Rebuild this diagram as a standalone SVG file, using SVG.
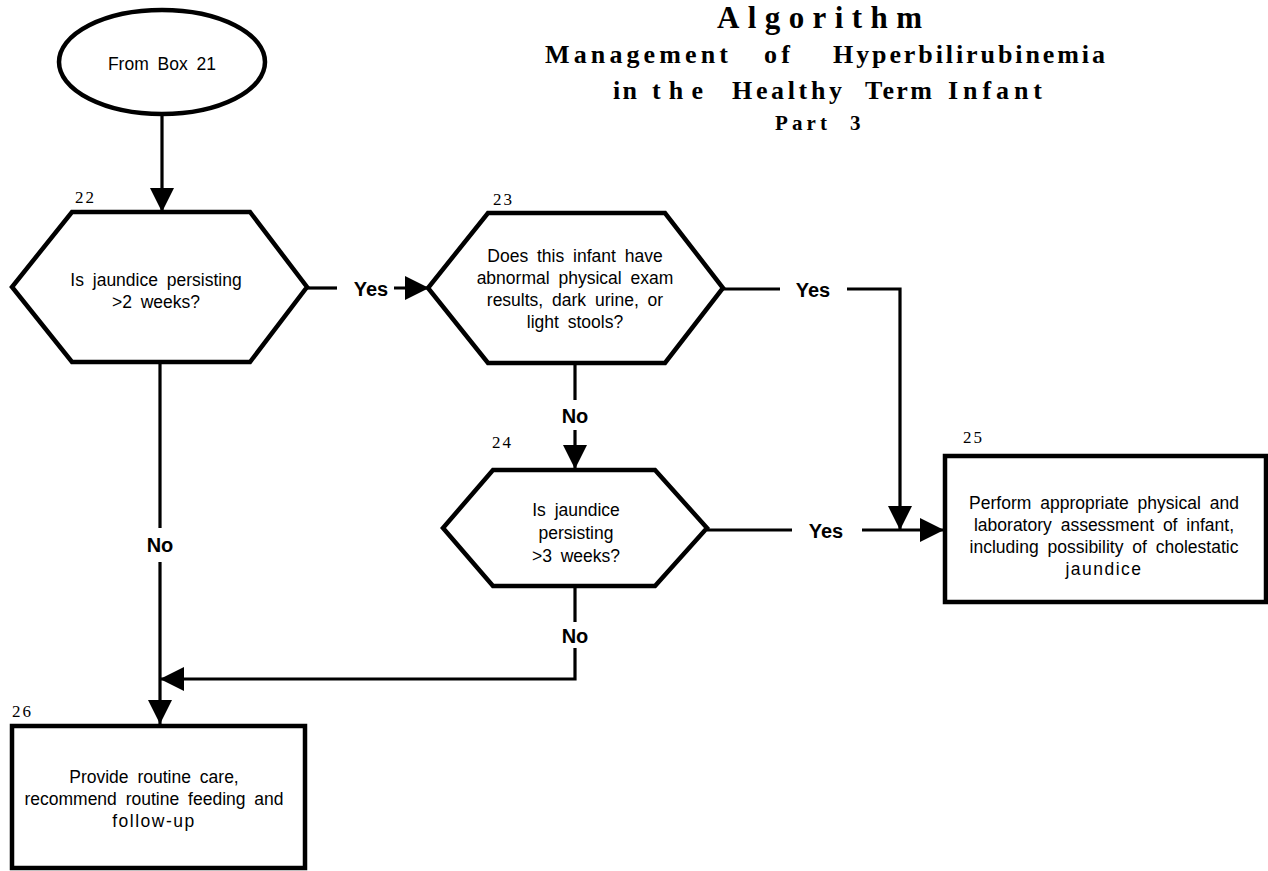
<svg xmlns="http://www.w3.org/2000/svg" width="1268" height="871" viewBox="0 0 1268 871">
<style>
.shape{fill:#fff;stroke:#000;stroke-width:4.5;stroke-linejoin:miter}
.conn{fill:none;stroke:#000;stroke-width:3.2}
.t{font-family:"Liberation Sans",Arial,sans-serif;font-size:17.5px;fill:#000;text-anchor:middle;word-spacing:4px}
.lbl{font-family:"Liberation Sans",Arial,sans-serif;font-size:20px;font-weight:bold;fill:#000;text-anchor:middle}
.num{font-family:"Liberation Serif","Times New Roman",serif;font-size:17px;fill:#000;letter-spacing:2px}
.title{font-family:"Liberation Serif","Times New Roman",serif;font-weight:bold;fill:#000}
</style>
<defs>
<marker id="arr" markerUnits="userSpaceOnUse" markerWidth="26" markerHeight="24" refX="24" refY="12" orient="auto">
<path d="M0,0 L24,12 L0,24 Z" fill="#000"/>
</marker>
</defs>
<g id="title">
<text class="title" x="717" y="28" font-size="31" textLength="205" lengthAdjust="spacing">Algorithm</text>
<text class="title" y="63" font-size="26"><tspan x="545" textLength="183" lengthAdjust="spacing">Management</tspan> <tspan x="764" textLength="26" lengthAdjust="spacing">of</tspan> <tspan x="833" textLength="272" lengthAdjust="spacing">Hyperbilirubinemia</tspan></text>
<text class="title" y="99" font-size="26"><tspan x="613" textLength="24" lengthAdjust="spacing">in</tspan> <tspan x="652" textLength="51" lengthAdjust="spacing">the</tspan> <tspan x="732" textLength="110" lengthAdjust="spacing">Healthy</tspan> <tspan x="865" textLength="67" lengthAdjust="spacing">Term</tspan> <tspan x="948" textLength="94" lengthAdjust="spacing">Infant</tspan></text>
<text class="title" y="130" font-size="21"><tspan x="775" textLength="52" lengthAdjust="spacing">Part</tspan> <tspan x="850">3</tspan></text>
</g>
<g id="connectors">
<line class="conn" x1="162" y1="115" x2="162" y2="212" marker-end="url(#arr)"/>
<line class="conn" x1="307" y1="288" x2="337" y2="288"/>
<line class="conn" x1="394" y1="288" x2="429" y2="288" marker-end="url(#arr)"/>
<line class="conn" x1="723" y1="289" x2="780" y2="289"/>
<polyline class="conn" points="847,289 900,289 900,530" marker-end="url(#arr)"/>
<line class="conn" x1="575" y1="363" x2="575" y2="400"/>
<line class="conn" x1="575" y1="430" x2="575" y2="469" marker-end="url(#arr)"/>
<line class="conn" x1="707" y1="530" x2="792" y2="530"/>
<line class="conn" x1="862" y1="530" x2="944" y2="530" marker-end="url(#arr)"/>
<line class="conn" x1="575" y1="586" x2="575" y2="622"/>
<polyline class="conn" points="575,648 575,679 160,679" marker-end="url(#arr)"/>
<line class="conn" x1="160" y1="362" x2="160" y2="528"/>
<line class="conn" x1="160" y1="562" x2="160" y2="724" marker-end="url(#arr)"/>
<text class="lbl" x="371" y="296">Yes</text>
<text class="lbl" x="813" y="297">Yes</text>
<text class="lbl" x="826" y="538">Yes</text>
<text class="lbl" x="575" y="423">No</text>
<text class="lbl" x="575" y="643">No</text>
<text class="lbl" x="160" y="552">No</text>
</g>
<g id="n21">
<ellipse class="shape" cx="162" cy="62" rx="103" ry="52"/>
<text class="t" x="162" y="70">From Box 21</text>
</g>
<g id="n22">
<text class="num" x="75" y="203">22</text>
<polygon class="shape" points="72,212 250,212 307,287 250,362 72,362 12,287"/>
<text class="t" x="156" y="286">Is jaundice persisting</text>
<text class="t" x="156" y="308">&gt;2 weeks?</text>
</g>
<g id="n23">
<text class="num" x="493" y="205">23</text>
<polygon class="shape" points="488,213 665,213 723,288 665,363 488,363 428,288"/>
<text class="t" x="575" y="262">Does this infant have</text>
<text class="t" x="575" y="284">abnormal physical exam</text>
<text class="t" x="575" y="306">results, dark urine, or</text>
<text class="t" x="575" y="328">light stools?</text>
</g>
<g id="n24">
<text class="num" x="492" y="448">24</text>
<polygon class="shape" points="493,470 655,470 707,528 655,586 493,586 443,528"/>
<text class="t" x="576" y="516">Is jaundice</text>
<text class="t" x="576" y="539">persisting</text>
<text class="t" x="576" y="562">&gt;3 weeks?</text>
</g>
<g id="n25">
<text class="num" x="963" y="443">25</text>
<rect class="shape" x="945" y="456" width="321" height="146"/>
<text class="t" x="1104" y="509">Perform appropriate physical and</text>
<text class="t" x="1104" y="531">laboratory assessment of infant,</text>
<text class="t" x="1104" y="553">including possibility of cholestatic</text>
<text class="t" x="1104" y="575" letter-spacing="1.5">jaundice</text>
</g>
<g id="n26">
<text class="num" x="12" y="717">26</text>
<rect class="shape" x="12" y="726" width="293" height="142"/>
<text class="t" x="154" y="783">Provide routine care,</text>
<text class="t" x="154" y="805">recommend routine feeding and</text>
<text class="t" x="154" y="827" letter-spacing="1.5">follow-up</text>
</g>
</svg>
